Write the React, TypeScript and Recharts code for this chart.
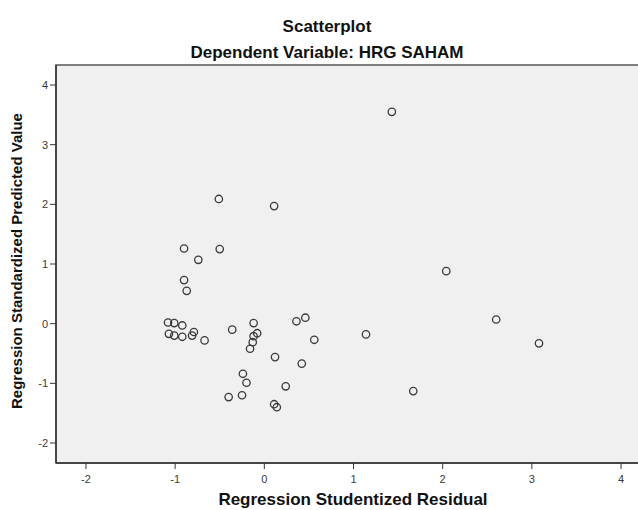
import React from 'react';
import {
  ScatterChart, Scatter, XAxis, YAxis, ReferenceArea,
} from 'recharts';

// studentized residuals (x) and standardized predicted values (y)
const residuals = [
  1.43, 2.04, 2.60, 1.14, 3.08, 1.67,
  -0.51, 0.11, -0.90, -0.50, -0.74, -0.90, -0.87,
  -1.08, -1.01, -0.92, -1.07, -1.01, -0.92, -0.79, -0.81, -0.67,
  -0.36, -0.12, -0.08, -0.12, -0.13, -0.16,
  0.36, 0.46, 0.56, 0.12, 0.42,
  -0.24, -0.20, 0.24, -0.40, -0.25, 0.11, 0.14,
];
const predicted = [
  3.55, 0.88, 0.07, -0.18, -0.33, -1.13,
  2.09, 1.97, 1.26, 1.25, 1.07, 0.73, 0.55,
  0.02, 0.01, -0.03, -0.17, -0.20, -0.22, -0.14, -0.20, -0.28,
  -0.10, 0.01, -0.16, -0.21, -0.31, -0.42,
  0.04, 0.10, -0.27, -0.56, -0.67,
  -0.84, -0.99, -1.05, -1.23, -1.20, -1.35, -1.40,
];
const xTicks = [-2, -1, 0, 1, 2, 3, 4];
const yTicks = [-2, -1, 0, 1, 2, 3, 4];

const X_DOMAIN: [number, number] = [-2.336, 4.336];
const Y_DOMAIN: [number, number] = [-2.335, 4.335];

const points = residuals.map((x, i) => ({ x, y: predicted[i] }));

const FONT = '"Liberation Sans", Arial, sans-serif';
const tickStyle = { fontSize: 11, fill: '#3a3a3a', fontFamily: FONT };

const OpenCircle = (props: any) => {
  const { cx, cy } = props;
  if (cx == null || cy == null) return null;
  return <circle cx={cx} cy={cy} r={3.7} fill="none" stroke="#3a3a3a" strokeWidth={1.3} />;
};

export default function App() {
  return (
    <div
      style={{
        position: 'absolute', left: 0, top: 0, width: 638, height: 510,
        overflow: 'hidden', background: '#fff',
      }}
    >
      <ScatterChart width={652} height={510} margin={{ top: 65, right: 1, bottom: 0, left: 0 }}>
        <ReferenceArea
          x1={X_DOMAIN[0]} x2={X_DOMAIN[1]} y1={Y_DOMAIN[0]} y2={Y_DOMAIN[1]}
          fill="#f0f0f0" fillOpacity={1} stroke="#555" strokeWidth={1.5}
        />
        <XAxis
          type="number" dataKey="x" domain={X_DOMAIN} ticks={xTicks} allowDataOverflow
          height={47} tickSize={6} tickMargin={6} tick={tickStyle}
          axisLine={{ stroke: '#333', strokeWidth: 1.5 }} tickLine={{ stroke: '#333' }}
        />
        <YAxis
          type="number" dataKey="y" domain={Y_DOMAIN} ticks={yTicks} allowDataOverflow
          width={56} tickSize={6} tick={tickStyle}
          axisLine={{ stroke: '#333', strokeWidth: 1.5 }} tickLine={{ stroke: '#333' }}
        />
        <Scatter data={points} shape={<OpenCircle />} isAnimationActive={false} />
      </ScatterChart>
      <svg
        width={638} height={510}
        style={{ position: 'absolute', left: 0, top: 0, pointerEvents: 'none' }}
        fontFamily={FONT} fontWeight="bold" fill="#111"
      >
        <text x={327} y={32} fontSize={17} textAnchor="middle">Scatterplot</text>
        <text x={327} y={58} fontSize={17} textAnchor="middle">Dependent Variable: HRG SAHAM</text>
        <text x={353} y={505} fontSize={17} textAnchor="middle">Regression Studentized Residual</text>
        <text x={22} y={261} fontSize={15} textAnchor="middle" transform="rotate(-90 22 261)">
          Regression Standardized Predicted Value
        </text>
      </svg>
    </div>
  );
}
